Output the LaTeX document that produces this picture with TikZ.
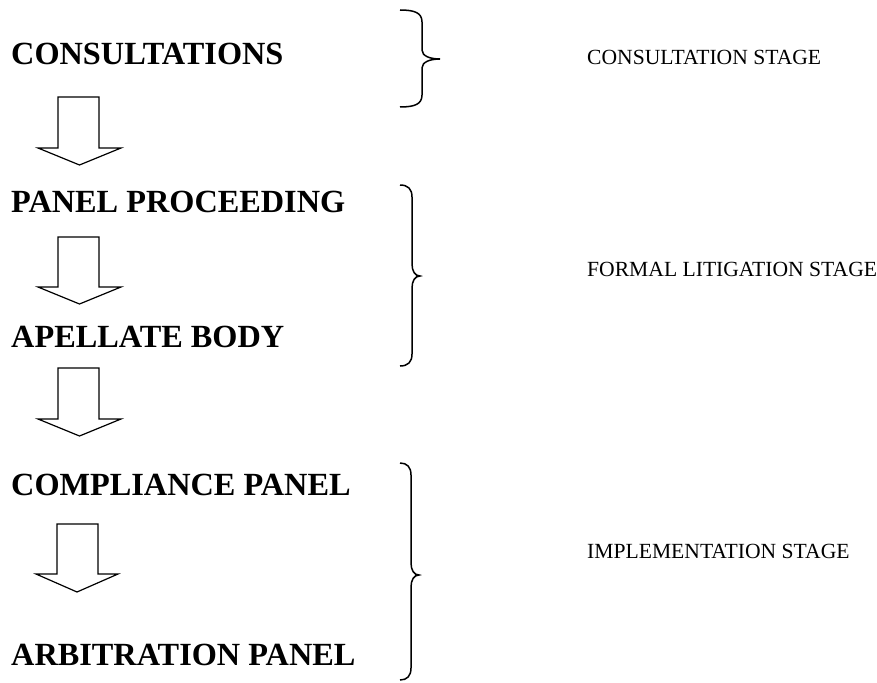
\documentclass[tikz,border=0pt]{standalone}
\usepackage{fontspec}
\setmainfont{Liberation Serif}
\begin{document}
\begin{tikzpicture}[x=1pt,y=-1pt,
  stagebox/.style={anchor=base west,inner sep=0pt,font=\fontsize{32.3}{37}\selectfont\bfseries},
  stagelabel/.style={anchor=base west,inner sep=0pt,font=\fontsize{21.6}{25}\selectfont},
  blockarrow/.style={draw=black,line width=1.2pt,line join=miter,fill=white},
  bracepath/.style={draw=black,line width=1.5pt}]
\useasboundingbox (0,0) rectangle (877,682);
% main stages
\node[stagebox] (cons) at (11,65) {CONSULTATIONS};
\node[stagebox] (panel) at (11,212) {PANEL PROCEEDING};
\node[stagebox] (ab) at (11,347) {APELLATE BODY};
\node[stagebox] (comp) at (11,495) {COMPLIANCE PANEL};
\node[stagebox] (arb) at (11,665) {ARBITRATION PANEL};
% stage labels
\node[stagelabel] (l1) at (587,65) {CONSULTATION STAGE};
\node[stagelabel] (l2) at (587,276) {FORMAL LITIGATION STAGE};
\node[stagelabel] (l3) at (587,558) {IMPLEMENTATION STAGE};
% block arrows
\newcommand{\blkarrow}[3]{% top, shoulder, tip
  \path[blockarrow] (58,#1) -- (99,#1) -- (99,#2) -- (121,#2) -- (79.5,#3) -- (38,#2) -- (58,#2) -- cycle;}
\blkarrow{97}{148}{165}
\blkarrow{237}{287}{304}
\blkarrow{368}{419}{436}
\path[blockarrow] (57,524) -- (98,524) -- (98,574) -- (118,574) -- (77,592) -- (36,574) -- (57,574) -- cycle;
% braces
\path[bracepath] (400,10) .. controls (415,10) and (422,13) .. (422,22) -- (422,50)
  .. controls (422,56) and (430,59) .. (440,59)
  .. controls (430,59) and (422,62) .. (422,68) -- (422,95)
  .. controls (422,104) and (415,107) .. (400,107);
\path[bracepath] (400,185) .. controls (408,185) and (412,189) .. (412,197) -- (412,264)
  .. controls (412,271) and (415,276) .. (420,276)
  .. controls (415,276) and (412,281) .. (412,288) -- (412,354)
  .. controls (412,362) and (408,366) .. (400,366);
\path[bracepath] (400,463) .. controls (407,463) and (411,467) .. (411,475) -- (411,563)
  .. controls (411,570) and (414,575) .. (419,575)
  .. controls (414,575) and (411,580) .. (411,587) -- (411,668)
  .. controls (411,676) and (407,680) .. (400,680);
\end{tikzpicture}
\end{document}
